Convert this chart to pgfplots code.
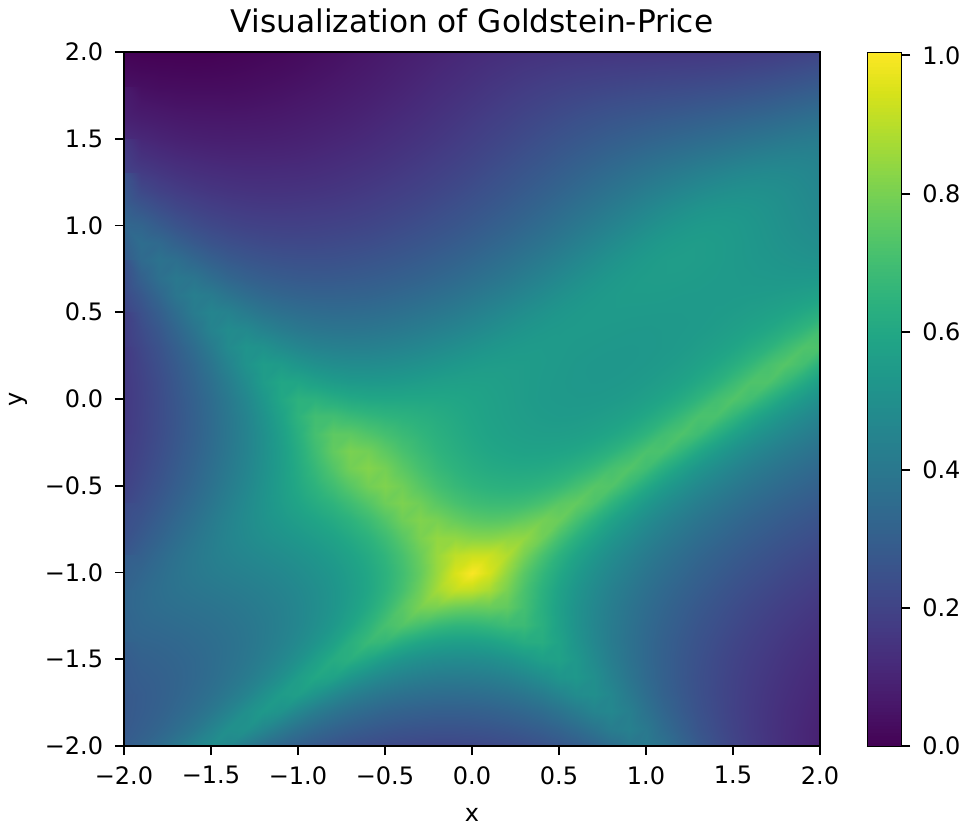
\documentclass[border=0pt]{standalone}
\usepackage{fontspec}
\setmainfont{DejaVu Sans}
\usepackage{pgfplots}
\pgfplotsset{compat=1.18}
\begin{document}
\begin{tikzpicture}
\path[use as bounding box] (-62pt,-39.5pt) rectangle (420pt,373pt);
\begin{axis}[
  at={(0pt,0pt)},anchor=south west,
  scale only axis,width=348pt,height=347pt,
  xmin=-2,xmax=2,ymin=-2,ymax=2,
  axis on top,
  colormap/viridis,point meta min=0,point meta max=1.005,
  axis line style={line width=0.95pt},
  tick style={line width=0.95pt,black},
  major tick length=4.6pt,
  tick align=outside,xtick pos=bottom,ytick pos=left,
  xtick={-2,-1.5,-1,-0.5,0,0.5,1,1.5,2},
  ytick={-2,-1.5,-1,-0.5,0,0.5,1,1.5,2},
  xticklabels={−2.0,−1.5,−1.0,−0.5,0.0,0.5,1.0,1.5,2.0},
  yticklabels={−2.0,−1.5,−1.0,−0.5,0.0,0.5,1.0,1.5,2.0},
  tick label style={font=\fontsize{12}{14}\selectfont},
  xticklabel style={yshift=-2pt},
  yticklabel style={xshift=-2.3pt},
  label style={font=\fontsize{12}{14}\selectfont},
  title style={font=\fontsize{15.6}{18}\selectfont},
  title={Visualization of Goldstein-Price},
  xlabel={x},ylabel={y},
  xlabel style={at={(axis description cs:0.5,0)},anchor=center,yshift=-34.5pt},
  ylabel style={at={(axis description cs:0,0.5)},anchor=center,yshift=53pt},
  colorbar sampled,
  colorbar style={
    at={(1.0675,0)},anchor=south west,
    scale only axis,width=17pt,height=347pt,
    samples=200,
    ytick={0,0.2,0.4,0.6,0.8,1},
    yticklabels={0.0,0.2,0.4,0.6,0.8,1.0},
    ytick pos=right,yticklabel pos=right,
    yticklabel style={xshift=2.5pt},
    tick align=outside,
    major tick length=4.6pt,
  },
]
\addplot[surf,shader=interp,mesh/cols=41,point meta=explicit]
 table[x expr={-2+0.1*mod(\coordindex,41)},y expr={2-0.1*floor(\coordindex/41)},meta=z]{
z
0.003
0.001
0.000
0.000
0.000
0.001
0.005
0.009
0.014
0.019
0.026
0.033
0.041
0.050
0.059
0.069
0.079
0.089
0.098
0.108
0.117
0.125
0.133
0.139
0.145
0.148
0.151
0.153
0.154
0.155
0.156
0.157
0.159
0.161
0.163
0.167
0.171
0.177
0.184
0.193
0.202
0.023
0.018
0.016
0.015
0.014
0.015
0.017
0.021
0.026
0.030
0.036
0.044
0.051
0.060
0.069
0.079
0.089
0.099
0.110
0.119
0.130
0.140
0.149
0.158
0.164
0.171
0.175
0.179
0.182
0.184
0.187
0.190
0.192
0.194
0.198
0.202
0.209
0.215
0.224
0.233
0.244
0.044
0.038
0.032
0.031
0.030
0.030
0.031
0.034
0.038
0.043
0.049
0.055
0.063
0.071
0.080
0.089
0.099
0.110
0.121
0.132
0.143
0.155
0.165
0.175
0.185
0.192
0.200
0.205
0.210
0.215
0.219
0.222
0.226
0.230
0.235
0.241
0.248
0.257
0.266
0.277
0.288
0.067
0.059
0.053
0.048
0.047
0.047
0.046
0.048
0.052
0.056
0.062
0.068
0.075
0.083
0.091
0.101
0.110
0.121
0.133
0.145
0.157
0.168
0.181
0.192
0.203
0.214
0.222
0.232
0.239
0.245
0.250
0.256
0.261
0.268
0.274
0.282
0.290
0.299
0.311
0.322
0.334
0.094
0.082
0.075
0.069
0.065
0.064
0.064
0.065
0.067
0.071
0.076
0.082
0.088
0.095
0.104
0.113
0.123
0.134
0.146
0.158
0.171
0.184
0.196
0.210
0.222
0.234
0.247
0.257
0.267
0.275
0.283
0.291
0.299
0.307
0.316
0.325
0.335
0.345
0.356
0.368
0.378
0.124
0.110
0.099
0.091
0.086
0.083
0.082
0.083
0.084
0.087
0.091
0.096
0.103
0.109
0.117
0.127
0.137
0.148
0.159
0.172
0.185
0.199
0.213
0.226
0.242
0.256
0.269
0.282
0.294
0.306
0.317
0.327
0.338
0.348
0.358
0.370
0.381
0.392
0.403
0.411
0.416
0.159
0.141
0.127
0.116
0.110
0.105
0.102
0.102
0.103
0.104
0.107
0.112
0.118
0.125
0.133
0.142
0.152
0.163
0.175
0.187
0.201
0.215
0.230
0.246
0.261
0.277
0.292
0.307
0.323
0.337
0.352
0.365
0.378
0.391
0.403
0.415
0.427
0.437
0.443
0.445
0.440
0.201
0.176
0.159
0.145
0.135
0.129
0.125
0.122
0.122
0.124
0.125
0.129
0.135
0.142
0.150
0.158
0.168
0.179
0.191
0.204
0.217
0.233
0.249
0.265
0.281
0.298
0.316
0.334
0.351
0.370
0.386
0.403
0.419
0.434
0.448
0.461
0.470
0.475
0.473
0.466
0.454
0.250
0.220
0.195
0.178
0.165
0.155
0.149
0.145
0.143
0.144
0.146
0.149
0.154
0.160
0.168
0.177
0.186
0.197
0.209
0.222
0.237
0.252
0.268
0.285
0.303
0.322
0.341
0.362
0.382
0.402
0.423
0.441
0.460
0.476
0.490
0.499
0.503
0.499
0.491
0.477
0.462
0.303
0.269
0.239
0.215
0.198
0.185
0.176
0.170
0.167
0.166
0.168
0.171
0.174
0.180
0.187
0.196
0.206
0.216
0.229
0.243
0.257
0.272
0.289
0.307
0.327
0.347
0.369
0.390
0.413
0.436
0.458
0.480
0.499
0.515
0.524
0.526
0.522
0.512
0.498
0.484
0.469
0.338
0.323
0.289
0.259
0.235
0.219
0.207
0.198
0.194
0.192
0.191
0.194
0.198
0.202
0.209
0.217
0.227
0.239
0.251
0.264
0.279
0.295
0.313
0.332
0.353
0.375
0.398
0.422
0.445
0.470
0.493
0.514
0.531
0.541
0.544
0.540
0.530
0.518
0.504
0.490
0.479
0.325
0.358
0.343
0.310
0.280
0.257
0.242
0.231
0.223
0.219
0.218
0.218
0.222
0.227
0.232
0.241
0.251
0.262
0.274
0.288
0.303
0.321
0.339
0.360
0.381
0.404
0.429
0.454
0.479
0.503
0.525
0.541
0.550
0.554
0.550
0.543
0.533
0.522
0.511
0.501
0.492
0.287
0.345
0.379
0.365
0.332
0.304
0.282
0.267
0.257
0.250
0.247
0.247
0.248
0.253
0.260
0.267
0.276
0.287
0.300
0.315
0.331
0.349
0.369
0.390
0.413
0.436
0.461
0.486
0.510
0.530
0.545
0.554
0.557
0.554
0.550
0.542
0.535
0.528
0.521
0.515
0.512
0.252
0.308
0.367
0.402
0.389
0.357
0.329
0.308
0.294
0.285
0.279
0.277
0.279
0.282
0.288
0.295
0.304
0.315
0.329
0.344
0.362
0.380
0.400
0.423
0.446
0.470
0.494
0.516
0.534
0.546
0.553
0.554
0.553
0.550
0.546
0.543
0.539
0.537
0.535
0.536
0.539
0.223
0.274
0.332
0.392
0.427
0.415
0.384
0.357
0.337
0.324
0.316
0.312
0.312
0.314
0.318
0.326
0.336
0.347
0.361
0.377
0.395
0.415
0.435
0.457
0.480
0.502
0.521
0.536
0.545
0.550
0.550
0.549
0.546
0.545
0.545
0.545
0.547
0.550
0.556
0.564
0.576
0.202
0.247
0.299
0.357
0.418
0.454
0.443
0.413
0.387
0.369
0.358
0.351
0.347
0.349
0.353
0.360
0.370
0.383
0.396
0.412
0.431
0.451
0.472
0.493
0.512
0.528
0.538
0.544
0.545
0.544
0.543
0.542
0.542
0.543
0.547
0.552
0.560
0.571
0.584
0.604
0.628
0.187
0.227
0.273
0.326
0.385
0.447
0.484
0.474
0.446
0.422
0.404
0.394
0.389
0.388
0.392
0.399
0.408
0.421
0.436
0.451
0.469
0.488
0.507
0.523
0.535
0.541
0.544
0.542
0.540
0.537
0.536
0.538
0.541
0.546
0.554
0.566
0.581
0.600
0.626
0.659
0.700
0.175
0.213
0.254
0.301
0.355
0.415
0.479
0.518
0.509
0.481
0.459
0.443
0.436
0.433
0.435
0.441
0.450
0.462
0.477
0.493
0.509
0.524
0.536
0.543
0.546
0.544
0.540
0.537
0.534
0.533
0.534
0.538
0.545
0.556
0.570
0.588
0.614
0.645
0.686
0.727
0.722
0.168
0.203
0.242
0.284
0.332
0.388
0.450
0.514
0.554
0.547
0.522
0.502
0.489
0.484
0.484
0.488
0.496
0.507
0.519
0.533
0.544
0.551
0.553
0.552
0.547
0.542
0.536
0.532
0.532
0.533
0.537
0.545
0.557
0.574
0.596
0.625
0.663
0.710
0.738
0.703
0.640
0.164
0.197
0.233
0.274
0.318
0.367
0.423
0.487
0.553
0.596
0.591
0.569
0.551
0.540
0.538
0.540
0.545
0.554
0.562
0.567
0.569
0.567
0.560
0.552
0.545
0.539
0.535
0.533
0.534
0.539
0.548
0.561
0.579
0.605
0.638
0.682
0.726
0.726
0.673
0.613
0.560
0.162
0.195
0.230
0.268
0.309
0.354
0.405
0.464
0.530
0.599
0.644
0.642
0.622
0.606
0.597
0.595
0.596
0.596
0.596
0.591
0.583
0.573
0.563
0.552
0.544
0.540
0.538
0.539
0.544
0.553
0.568
0.588
0.616
0.654
0.701
0.731
0.699
0.639
0.584
0.539
0.500
0.164
0.196
0.230
0.265
0.305
0.348
0.396
0.449
0.511
0.579
0.650
0.698
0.698
0.679
0.664
0.652
0.643
0.632
0.619
0.605
0.590
0.576
0.565
0.556
0.549
0.546
0.547
0.553
0.563
0.578
0.601
0.632
0.674
0.717
0.717
0.664
0.606
0.556
0.516
0.480
0.450
0.168
0.199
0.232
0.268
0.306
0.348
0.394
0.444
0.500
0.564
0.634
0.707
0.755
0.754
0.730
0.706
0.681
0.659
0.636
0.615
0.597
0.582
0.571
0.564
0.560
0.560
0.565
0.576
0.593
0.618
0.653
0.697
0.725
0.691
0.630
0.575
0.530
0.493
0.461
0.432
0.407
0.173
0.205
0.238
0.274
0.312
0.353
0.397
0.445
0.498
0.556
0.621
0.692
0.762
0.803
0.790
0.753
0.715
0.680
0.652
0.628
0.608
0.594
0.584
0.578
0.579
0.584
0.594
0.613
0.640
0.679
0.719
0.716
0.660
0.600
0.548
0.507
0.471
0.441
0.415
0.391
0.370
0.183
0.214
0.248
0.284
0.322
0.363
0.406
0.452
0.502
0.555
0.612
0.672
0.734
0.791
0.819
0.794
0.749
0.707
0.672
0.647
0.626
0.612
0.605
0.603
0.607
0.619
0.639
0.669
0.709
0.733
0.696
0.632
0.574
0.526
0.487
0.453
0.423
0.398
0.376
0.355
0.337
0.195
0.227
0.261
0.297
0.335
0.376
0.419
0.463
0.510
0.557
0.603
0.648
0.695
0.743
0.790
0.812
0.786
0.742
0.704
0.674
0.654
0.642
0.636
0.639
0.651
0.671
0.705
0.740
0.732
0.672
0.608
0.553
0.509
0.470
0.437
0.409
0.383
0.361
0.341
0.323
0.307
0.210
0.243
0.278
0.314
0.352
0.392
0.433
0.475
0.514
0.552
0.586
0.619
0.652
0.691
0.735
0.782
0.807
0.785
0.746
0.715
0.693
0.683
0.682
0.691
0.714
0.747
0.764
0.722
0.653
0.590
0.538
0.495
0.458
0.425
0.397
0.372
0.349
0.329
0.311
0.294
0.280
0.227
0.261
0.297
0.334
0.371
0.410
0.447
0.481
0.511
0.537
0.561
0.585
0.612
0.644
0.684
0.732
0.784
0.814
0.800
0.770
0.749
0.741
0.747
0.768
0.792
0.777
0.710
0.639
0.579
0.530
0.486
0.449
0.417
0.388
0.363
0.340
0.319
0.301
0.284
0.269
0.255
0.248
0.282
0.318
0.354
0.390
0.422
0.452
0.476
0.497
0.515
0.533
0.553
0.577
0.607
0.643
0.688
0.743
0.803
0.843
0.840
0.825
0.824
0.837
0.840
0.785
0.705
0.635
0.576
0.526
0.484
0.446
0.413
0.384
0.357
0.334
0.313
0.293
0.276
0.260
0.245
0.232
0.271
0.305
0.340
0.373
0.402
0.426
0.445
0.461
0.475
0.490
0.507
0.526
0.550
0.579
0.614
0.658
0.712
0.777
0.851
0.907
0.926
0.926
0.887
0.800
0.715
0.642
0.582
0.531
0.487
0.448
0.414
0.384
0.356
0.331
0.309
0.289
0.271
0.254
0.238
0.224
0.211
0.294
0.327
0.356
0.382
0.402
0.418
0.430
0.441
0.453
0.467
0.485
0.506
0.530
0.561
0.598
0.643
0.698
0.767
0.852
0.947
1.000
0.943
0.839
0.745
0.666
0.602
0.547
0.498
0.458
0.422
0.388
0.360
0.334
0.309
0.288
0.268
0.250
0.234
0.218
0.204
0.192
0.315
0.342
0.363
0.379
0.391
0.401
0.411
0.422
0.434
0.450
0.469
0.492
0.521
0.554
0.595
0.646
0.707
0.784
0.868
0.915
0.910
0.875
0.800
0.716
0.641
0.577
0.524
0.477
0.436
0.401
0.369
0.340
0.315
0.292
0.270
0.250
0.232
0.216
0.201
0.187
0.173
0.327
0.344
0.358
0.367
0.375
0.383
0.393
0.406
0.421
0.438
0.461
0.488
0.521
0.561
0.609
0.670
0.742
0.800
0.801
0.781
0.773
0.776
0.762
0.705
0.632
0.568
0.512
0.464
0.423
0.386
0.354
0.326
0.299
0.276
0.255
0.234
0.216
0.200
0.184
0.171
0.159
0.327
0.336
0.343
0.351
0.359
0.368
0.380
0.395
0.413
0.436
0.462
0.495
0.536
0.585
0.647
0.710
0.733
0.705
0.675
0.658
0.658
0.669
0.687
0.684
0.635
0.570
0.511
0.459
0.416
0.378
0.344
0.315
0.288
0.263
0.242
0.222
0.203
0.185
0.171
0.157
0.145
0.316
0.323
0.328
0.335
0.346
0.358
0.372
0.391
0.414
0.442
0.476
0.517
0.570
0.632
0.678
0.664
0.623
0.591
0.571
0.562
0.563
0.574
0.596
0.622
0.624
0.581
0.520
0.464
0.416
0.375
0.339
0.307
0.279
0.254
0.231
0.210
0.192
0.175
0.159
0.145
0.133
0.302
0.308
0.316
0.325
0.337
0.353
0.373
0.396
0.425
0.462
0.506
0.562
0.618
0.633
0.595
0.553
0.521
0.500
0.487
0.482
0.484
0.493
0.512
0.539
0.569
0.576
0.536
0.478
0.425
0.378
0.339
0.305
0.274
0.248
0.223
0.202
0.183
0.166
0.150
0.135
0.122
0.288
0.297
0.307
0.320
0.336
0.356
0.382
0.413
0.451
0.500
0.558
0.599
0.579
0.531
0.491
0.461
0.440
0.426
0.416
0.414
0.417
0.424
0.439
0.462
0.492
0.526
0.535
0.497
0.441
0.389
0.344
0.307
0.273
0.244
0.220
0.197
0.176
0.159
0.142
0.126
0.112
0.280
0.290
0.304
0.322
0.344
0.370
0.404
0.446
0.499
0.552
0.563
0.521
0.474
0.436
0.408
0.387
0.372
0.362
0.356
0.354
0.357
0.364
0.376
0.394
0.420
0.453
0.488
0.499
0.463
0.408
0.358
0.313
0.278
0.246
0.218
0.195
0.173
0.153
0.136
0.120
0.104
0.276
0.291
0.309
0.333
0.362
0.399
0.445
0.500
0.539
0.516
0.465
0.421
0.387
0.361
0.341
0.324
0.314
0.307
0.302
0.302
0.304
0.310
0.321
0.335
0.355
0.383
0.417
0.454
0.467
0.431
0.378
0.330
0.287
0.252
0.222
0.194
0.171
0.150
0.130
0.114
0.099
0.280
0.300
0.325
0.357
0.397
0.448
0.500
0.508
0.463
0.414
0.373
0.342
0.317
0.298
0.283
0.271
0.262
0.257
0.254
0.254
0.257
0.262
0.271
0.283
0.299
0.321
0.350
0.386
0.423
0.438
0.404
0.352
0.305
0.263
0.229
0.199
0.172
0.149
0.129
0.109
0.093
0.292
0.320
0.355
0.400
0.453
0.490
0.465
0.413
0.366
0.329
0.301
0.278
0.258
0.244
0.233
0.223
0.217
0.212
0.210
0.211
0.213
0.218
0.225
0.235
0.249
0.267
0.289
0.320
0.358
0.397
0.412
0.380
0.328
0.281
0.240
0.206
0.177
0.151
0.128
0.109
0.090
};
\end{axis}
\end{tikzpicture}
\end{document}
